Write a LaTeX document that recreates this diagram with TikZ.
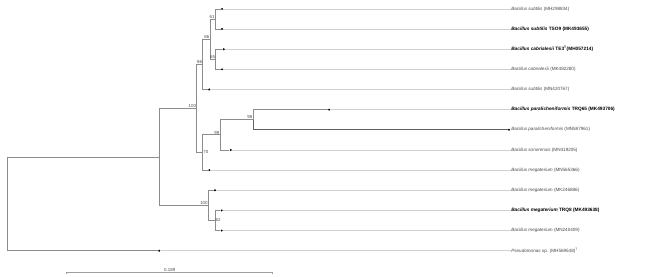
\documentclass[tikz,border=0pt]{standalone}
\usepackage{fontspec}
\setmainfont{Liberation Sans}
\usetikzlibrary{calc}
\begin{document}
\begin{tikzpicture}[x=1pt,y=-1pt,
  branch/.style={draw=black!45,line width=0.7pt},
  darkbranch/.style={draw=black!62,line width=0.8pt},
  leafline/.style={draw=black!18,line width=0.7pt},
  scalebar/.style={draw=black!38,line width=0.6pt},
  leafdot/.style={circle,fill=black,inner sep=0pt,minimum size=2.2pt},
  taxon/.style={anchor=west,inner sep=0.6pt,font=\fontsize{4.6}{5}\selectfont,text=black!72},
  strain/.style={anchor=west,inner sep=0.6pt,font=\fontsize{4.75}{5}\selectfont\bfseries,text=black},
  boot/.style={anchor=south east,inner sep=0.5pt,font=\fontsize{4.4}{5}\selectfont,text=black!70},
  bootr/.style={anchor=west,inner sep=0.5pt,font=\fontsize{4.4}{5}\selectfont,text=black!70}]
\useasboundingbox (0,0) rectangle (650,276);
% internal nodes
\coordinate (root) at (7.3,203.8);
\coordinate (nB) at (159.3,156.9);
\coordinate (n100u) at (196.7,108.4);
\coordinate (n86o) at (202.7,64.3);
\coordinate (n86i) at (210,39.13);
\coordinate (n61) at (215.3,18.98);
\coordinate (n65) at (215.7,59.28);
\coordinate (n70) at (202.7,152.47);
\coordinate (n99) at (220,134.84);
\coordinate (n98) at (253,119.73);
\coordinate (n100l) at (208.3,205.36);
\coordinate (n62) at (215,220.48);
% leaf dots
\node[leafdot] (l1) at (222,8.9) {};
\node[leafdot] (l2) at (222,29.05) {};
\node[leafdot] (l3) at (223.7,49.2) {};
\node[leafdot] (l4) at (222,69.35) {};
\node[leafdot] (l5) at (209.3,89.5) {};
\node[leafdot] (l6) at (329,109.65) {};
\node[leafdot] (l7) at (509,129.8) {};
\node[leafdot] (l8) at (230.7,149.95) {};
\node[leafdot] (l9) at (209.3,170.1) {};
\node[leafdot] (l10) at (215,190.25) {};
\node[leafdot] (l11) at (221.7,210.4) {};
\node[leafdot] (l12) at (221.7,230.55) {};
\node[leafdot] (l13) at (159.3,250.7) {};
% taxon labels
\node[taxon] (t1) at (510.5,8.9) {\textit{Bacillus subtilis} (MH298834)};
\node[strain] (t2) at (510.5,29.05) {\textit{Bacillus subtilis} TSO9 (MK493655)};
\node[strain] (t3) at (510.5,49.2) {\textit{Bacillus cabrialesii} TE3\textsuperscript{T}(MH057214)};
\node[taxon] (t4) at (510.5,69.35) {\textit{Bacillus cabrialesii} (MK482280)};
\node[taxon] (t5) at (510.5,89.5) {\textit{Bacillus subtilis} (MN420767)};
\node[strain] (t6) at (510.5,109.65) {\textit{Bacillus paralicheniformis} TRQ65 (MK493706)};
\node[taxon] (t7) at (510.5,129.8) {\textit{Bacillus paralicheniformis} (MN587961)};
\node[taxon] (t8) at (510.5,149.95) {\textit{Bacillus sonorensis} (MN419205)};
\node[taxon] (t9) at (510.5,170.1) {\textit{Bacillus megaterium} (MN565366)};
\node[taxon] (t10) at (510.5,190.25) {\textit{Bacillus megaterium} (MK246886)};
\node[strain] (t11) at (510.5,210.4) {\textit{Bacillus megaterium} TRQ8 (MK493638)};
\node[taxon] (t12) at (510.5,230.55) {\textit{Bacillus megaterium} (MN240409)};
\node[taxon] (t13) at (510.5,250.7) {\textit{Pseudomonas} sp. (MH569548)\textsuperscript{T}};
% leaf extension lines
\foreach \i in {1,2,3,4,5,6,8,9,10,11,12,13}{\draw[leafline] (l\i) -- (t\i.west);}
% tree branches
\draw[branch] (root) |- (nB);
\draw[branch] (root) |- (l13);
\draw[branch] (nB) |- (n100u);
\draw[branch] (nB) |- (n100l);
\draw[branch] (n100u) |- (n86o);
\draw[branch] (n100u) |- (n70);
\draw[branch] (n86o) |- (n86i);
\draw[branch] (n86o) |- (l5);
\draw[branch] (n86i) |- (n61);
\draw[branch] (n86i) |- (n65);
\draw[branch] (n61) |- (l1);
\draw[branch] (n61) |- (l2);
\draw[branch] (n65) |- (l3);
\draw[branch] (n65) |- (l4);
\draw[branch] (n70) |- (n99);
\draw[branch] (n70) |- (l9);
\draw[branch] (n99) |- (n98);
\draw[branch] (n99) |- (l8);
\draw[branch] (n98) |- (l6);
\draw[darkbranch] (n98) |- (l7);
\draw[branch] (n100l) |- (l10);
\draw[branch] (n100l) |- (n62);
\draw[branch] (n62) |- (l11);
\draw[branch] (n62) |- (l12);
% bootstrap values
\node[boot] (b61) at (n61) {61};
\node[boot] (b65) at (n65) {65};
\node[boot] (b86i) at (n86i) {86};
\node[boot] (b86o) at (n86o) {86};
\node[boot] (b100u) at (n100u) {100};
\node[boot] (b99) at (n99) {99};
\node[boot] (b98) at (n98) {98};
\node[bootr] (b70) at (n70) {70};
\node[boot] (b100l) at (n100l) {100};
\node[bootr] (b62) at (n62) {62};
% scale bar
\coordinate (sb1) at (66.7,272.7);
\coordinate (sb2) at (272.7,272.7);
\draw[scalebar] (sb1) -- (sb2);
\draw[scalebar] ([yshift=-1.2pt]sb1) -- ([yshift=1.2pt]sb1);
\draw[scalebar] ([yshift=-1.2pt]sb2) -- ([yshift=1.2pt]sb2);
\node[anchor=south,inner sep=0.8pt,font=\fontsize{4.4}{5}\selectfont,text=black!70] (sbl) at ($(sb1)!0.5!(sb2)$) {0.189};
\end{tikzpicture}
\end{document}
